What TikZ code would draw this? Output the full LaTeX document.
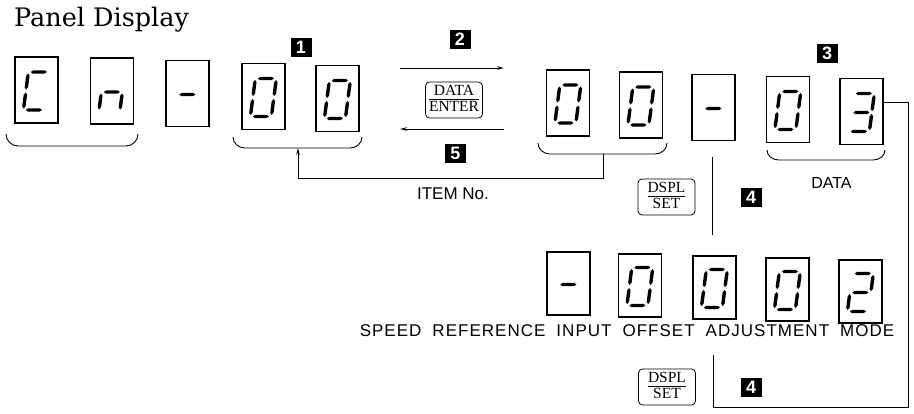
\documentclass[tikz,border=0pt]{standalone}
\usepackage{fontspec}
\setmainfont{Liberation Serif}
\setsansfont{Liberation Sans}
\newfontfamily\titlefont{DejaVu Serif}
\newfontfamily\spacedsans[LetterSpace=6]{Liberation Sans}
\usetikzlibrary{arrows.meta}

\newcommand\hseg[3]{\fill ({#1},{#3}) -- ({#1+2.2},{#3-1.7}) -- ({#2-2.2},{#3-1.7}) -- ({#2},{#3}) -- ({#2-2.2},{#3+1.7}) -- ({#1+2.2},{#3+1.7}) -- cycle;}
\newcommand\vseg[3]{\fill ({#1},{#2}) -- ({#1+1.7},{#2+2.2}) -- ({#1+1.7},{#3-2.2}) -- ({#1},{#3}) -- ({#1-1.7},{#3-2.2}) -- ({#1-1.7},{#2+2.2}) -- cycle;}
\newcommand\sga{\hseg{-8}{8}{-18}}
\newcommand\sgb{\vseg{10.5}{-16.5}{-0.5}}
\newcommand\sgc{\vseg{10.5}{2.5}{18.5}}
\newcommand\sgd{\hseg{-8}{8}{20}}
\newcommand\sge{\vseg{-10.5}{2.5}{18.5}}
\newcommand\sgf{\vseg{-10.5}{-16.5}{-0.5}}
\newcommand\sgg{\hseg{-8}{8}{1}}
\newcommand\digitbox[4][disp]{%
  \node[#1] (#2) at (#3) {};
  \begin{scope}[shift={(#2.center)}, xslant=0.13] #4 \end{scope}}
\newcommand\keytext[2]{\renewcommand\arraystretch{0.75}\begin{tabular}{@{}c@{}}#1\\\hline\rule{0pt}{11.5pt}#2\end{tabular}}
\newcommand\modefont{\spacedsans\fontsize{17}{17}\selectfont\spaceskip=11pt\relax}

\begin{document}
\begin{tikzpicture}[x=1pt, y=-1pt,
  disp/.style={draw, line width=1.1pt, minimum width=43pt, minimum height=66pt, inner sep=0pt},
  dispb/.style={disp, minimum height=63pt},
  keybox/.style={draw, rounded corners=4pt, line width=0.8pt, minimum width=57pt, minimum height=36pt, inner sep=1pt, font=\fontsize{15.5}{15.5}\selectfont},
  numtag/.style={fill=black, text=white, font=\sffamily\bfseries\fontsize{18}{18}\selectfont, minimum width=21pt, minimum height=19pt, inner sep=0pt},
  conn/.style={line width=0.9pt},
  arr/.style={conn, -{Stealth[length=7pt,width=3.5pt]}},
  lbl/.style={font=\sffamily\fontsize{16}{16}\selectfont, inner sep=0pt}]
\useasboundingbox (0,0) rectangle (914,413);

% title
\node[anchor=base west, inner sep=0pt, font=\titlefont\fontsize{25.5}{25.5}\selectfont] (title) at (14,26) {Panel Display};

% top row
\digitbox{t1}{36.5,90}{\sga\sgf\sge\sgd}
\digitbox{t2}{112,91}{\sgg\sge\sgc}
\digitbox{t3}{187.5,93.5}{\sgg}
\digitbox{t4}{263.5,96.5}{\sga\sgb\sgc\sgd\sge\sgf}
\digitbox{t5}{337.5,98.5}{\sga\sgb\sgc\sgd\sge\sgf}
\digitbox{t6}{568,103}{\sga\sgb\sgc\sgd\sge\sgf}
\digitbox{t7}{641,105}{\sga\sgb\sgc\sgd\sge\sgf}
\digitbox{t8}{713.5,107.5}{\sgg}
\digitbox{t9}{788,109.5}{\sga\sgb\sgc\sgd\sge\sgf}
\digitbox{t10}{861.5,111.5}{\sga\sgb\sgg\sgc\sgd}

% bottom row
\digitbox[dispb]{b1}{568.5,283.5}{\sgg}
\digitbox[dispb]{b2}{640,285.5}{\sga\sgb\sgc\sgd\sge\sgf}
\digitbox[dispb]{b3}{714.5,287.5}{\sga\sgb\sgc\sgd\sge\sgf}
\digitbox[dispb]{b4}{787.5,289.5}{\sga\sgb\sgc\sgd\sge\sgf}
\digitbox[dispb]{b5}{860.5,291.5}{\sga\sgb\sgg\sge\sgd}

% braces
\draw[conn] (6,134) to[out=-90,in=180] (18,146) -- (126,146) to[out=0,in=-90] (138,134);
\draw[conn] (233,137) to[out=-90,in=180] (245,148) -- (350,148) to[out=0,in=-90] (362,137);
\draw[conn] (538,143) to[out=-90,in=180] (550,154) -- (655,154) to[out=0,in=-90] (667,143);
\draw[conn] (767,150) to[out=-90,in=180] (779,160) -- (873,160) to[out=0,in=-90] (885,150);
\coordinate (br2) at (298,148);
\coordinate (br3) at (603,154);

% tags
\node[numtag] (n1) at (301,47) {1};
\node[numtag] (n2) at (460,39) {2};
\node[numtag] (n3) at (827,53.5) {3};
\node[numtag] (n5) at (455.5,153) {5};
\node[numtag] (n4a) at (751,197.5) {4};
\node[numtag] (n4b) at (751,387) {4};

% keys
\node[keybox] (kde) at (454,100) {\keytext{DATA}{ENTER}};
\node[keybox] (kds1) at (666.5,197) {\keytext{DSPL}{SET}};
\node[keybox] (kds2) at (667,387) {\keytext{DSPL}{SET}};

% DATA/ENTER arrows
\coordinate (ta) at (400,68);
\coordinate (tb) at (504,68);
\coordinate (ua) at (400,129);
\coordinate (ub) at (504,129);
\draw[arr] (ta) -- (tb);
\draw[arr] (ub) -- (ua);

% item number return
\draw[arr] (br3) -- ++(0,24) -| (br2);

% labels
\node[lbl, font=\sffamily\fontsize{17}{17}\selectfont] (item) at (453,194) {ITEM No.};
\node[lbl] (data) at (831.5,182.5) {DATA};
\node[lbl, font=\modefont] (mode) at (627,331) {SPEED REFERENCE INPUT OFFSET ADJUSTMENT MODE};

% DSPL/SET lines
\coordinate (v1a) at (712,157);
\coordinate (v1b) at (712,235);
\draw[conn] (v1a) -- (v1b);
\coordinate (lp) at (713,355);
\coordinate (lc) at (908,407);
\coordinate (d10e) at ([yshift=9.5pt]t10.east);
\draw[conn] (lp) |- (lc) -- (lc |- d10e) -- (d10e);
\end{tikzpicture}
\end{document}
